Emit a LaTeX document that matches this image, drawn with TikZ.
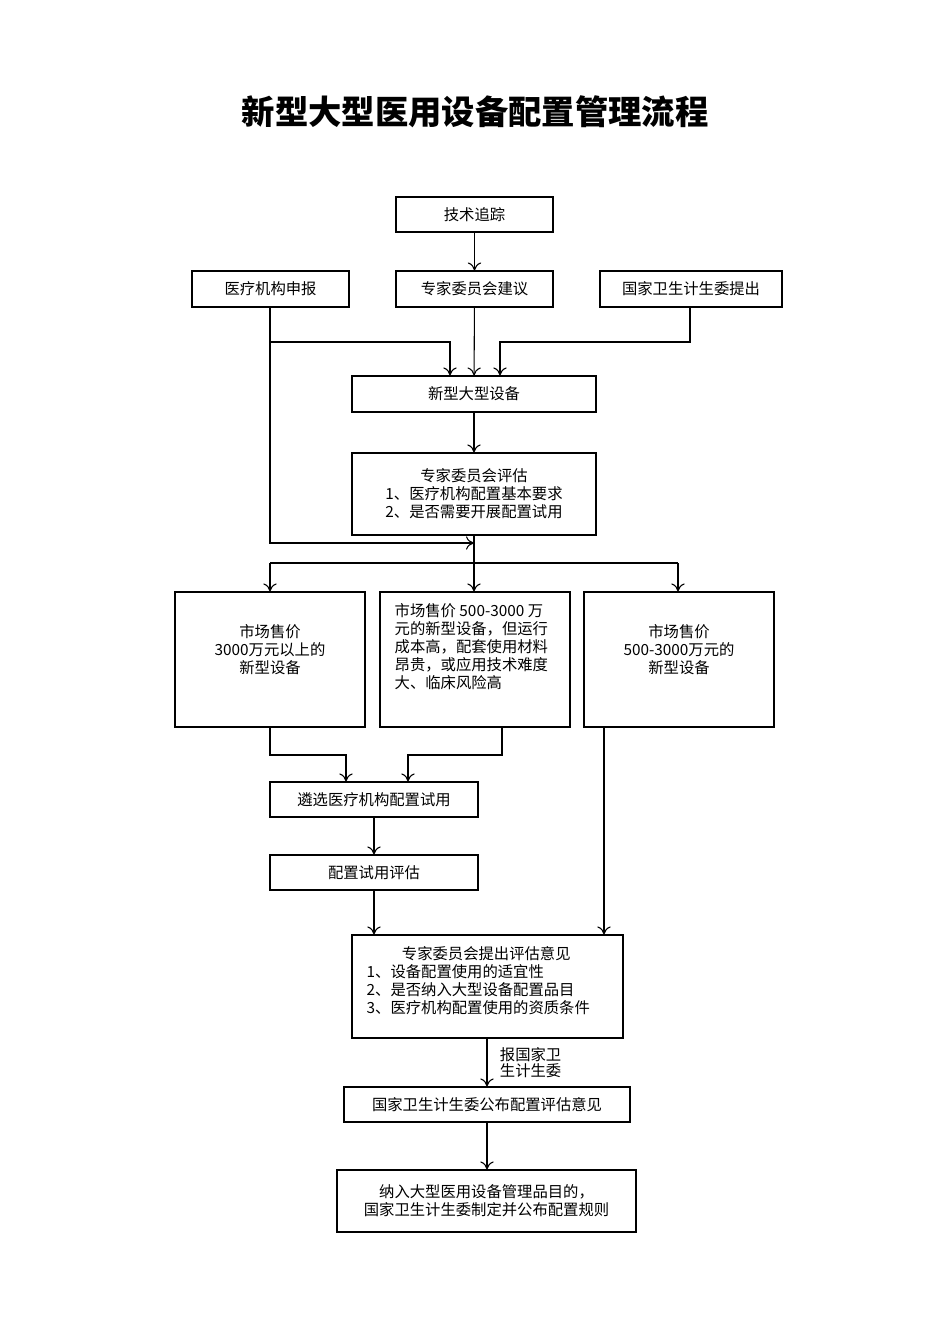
\documentclass[tikz,border=0pt]{standalone}
\usepackage{fontspec}
\setmainfont{Liberation Serif}
\newfontfamily\cjk{Noto Sans CJK SC}
\usetikzlibrary{arrows.meta}
\begin{document}
\begin{tikzpicture}[x=0.75pt,y=-0.75pt,
 box/.style={draw,line width=0.8pt,inner sep=0pt,font=\cjk\fontsize{11.5}{13.5}\selectfont,align=center},
 ln/.style={line width=0.8pt},
 ar/.style={line width=0.8pt,-{To[length=6pt,width=10pt]}}]
\useasboundingbox (0,0) rectangle (950,1344);
\node[font=\cjk\bfseries\fontsize{25}{30}\selectfont] (title) at (475,112) {新型大型医用设备配置管理流程};
\newcommand{\bx}[6]{\node[box,minimum width=#4*0.75pt-#2*0.75pt,minimum height=#5*0.75pt-#3*0.75pt] (#1) at ({(#2+#4)/2},{(#3+#5)/2}) {#6};}
\bx{a}{396}{197}{553}{232}{技术追踪}
\bx{b}{192}{271}{349}{307}{医疗机构申报}
\bx{c}{396}{271}{553}{307}{专家委员会建议}
\bx{d}{600}{271}{782}{307}{国家卫生计生委提出}
\bx{e}{352}{376}{596}{412}{新型大型设备}
\bx{f}{352}{453}{596}{535}{专家委员会评估\\1、医疗机构配置基本要求\\2、是否需要开展配置试用}
\bx{g}{175}{592}{365}{727}{}
\bx{h}{380}{592}{570}{727}{}
\bx{i}{584}{592}{774}{727}{}
\node[font=\cjk\fontsize{11.5}{13.5}\selectfont,align=center] (gt) at (270,650) {市场售价\\3000万元以上的\\新型设备};
\node[font=\cjk\fontsize{11.5}{13.5}\selectfont,align=left,anchor=north west] (ht) at (390,599) {市场售价 500-3000 万\\元的新型设备，但运行\\成本高，配套使用材料\\昂贵，或应用技术难度\\大、临床风险高};
\node[font=\cjk\fontsize{11.5}{13.5}\selectfont,align=center] (it) at (679,650) {市场售价\\500-3000万元的\\新型设备};
\bx{j}{270}{782}{478}{817}{遴选医疗机构配置试用}
\bx{k}{270}{855}{478}{890}{配置试用评估}
\bx{l}{352}{935}{623}{1038}{}
\node[font=\cjk\fontsize{11.5}{13.5}\selectfont,align=left,anchor=north west] (lt) at (362,942) {\hspace*{2.3em}专家委员会提出评估意见\\1、设备配置使用的适宜性\\2、是否纳入大型设备配置品目\\3、医疗机构配置使用的资质条件};
\bx{m}{344}{1087}{630}{1122}{国家卫生计生委公布配置评估意见}
\bx{n}{337}{1170}{636}{1232}{纳入大型医用设备管理品目的，\\国家卫生计生委制定并公布配置规则}
\coordinate (p1) at (270,342); \coordinate (p2) at (450,342); \coordinate (p3) at (690,342); \coordinate (p4) at (500,342);
\coordinate (q1) at (270,543); \coordinate (q2) at (474,543);
\coordinate (r1) at (270,563); \coordinate (r2) at (474,563); \coordinate (r3) at (678,563);
\draw[ar] (a) -- (c);
\draw[ar] (c) -- (e);
\draw[ar] (b.south -| p1) -- (p1) -- (p2) -- (p2 |- e.north);
\draw[ar] (d.south -| p3) -- (p3) -- (p4) -- (p4 |- e.north);
\draw[ar] (p1) -- (q1) -- (q2);
\draw[ar] (e) -- (f);
\draw[ln] (f.south) -- (r2);
\draw[ln] (r1) -- (r3);
\draw[ar] (r1) -- (r1 |- g.north);
\draw[ar] (r2) -- (r2 |- h.north);
\draw[ar] (r3) -- (r3 |- i.north);
\coordinate (s1) at (270,755); \coordinate (s2) at (346,755); \coordinate (s3) at (502,755); \coordinate (s4) at (408,755);
\draw[ar] (g.south -| s1) -- (s1) -- (s2) -- (s2 |- j.north);
\draw[ar] (h.south -| s3) -- (s3) -- (s4) -- (s4 |- j.north);
\coordinate (t1) at (374,800);
\draw[ar] (j.south -| t1) -- (k.north -| t1);
\draw[ar] (k.south -| t1) -- (l.north -| t1);
\coordinate (t2) at (604,800);
\draw[ar] (i.south -| t2) -- (l.north -| t2);
\coordinate (t3) at (487,1000);
\draw[ar] (l.south -| t3) -- (m.north -| t3) node[pos=0.5,right,xshift=6pt,font=\cjk\fontsize{11.5}{12}\selectfont,align=left] {报国家卫\\生计生委};
\draw[ar] (m.south -| t3) -- (n.north -| t3);
\end{tikzpicture}
\end{document}
